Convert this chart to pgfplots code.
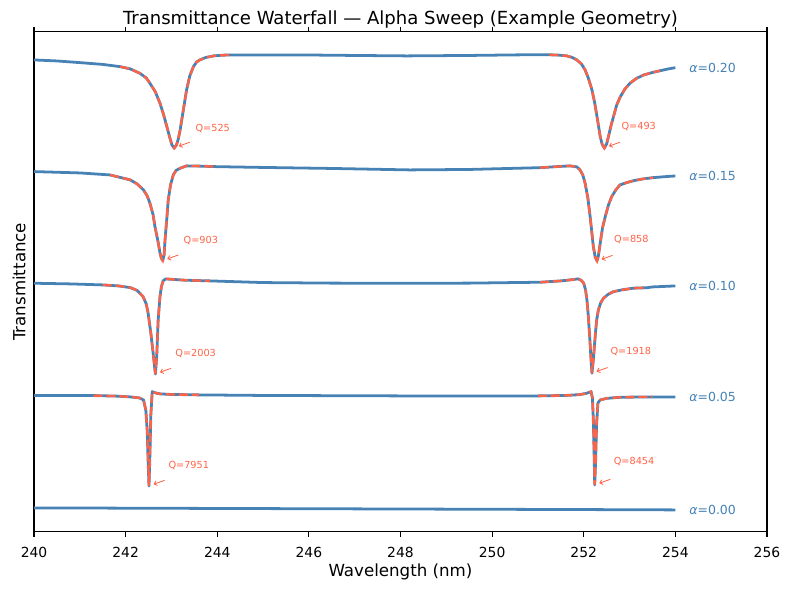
\documentclass[border=0pt]{standalone}
\usepackage{fontspec}
\setmainfont{DejaVu Sans}
\usepackage{pgfplots}
\pgfplotsset{compat=1.18}
\usepackage{pgfplotstable}
\usetikzlibrary{arrows.meta}
\definecolor{steel}{RGB}{70,130,180}
\definecolor{tomato}{RGB}{255,99,71}

\tikzset{
  data/.style={steel, line width=2.0pt, line join=round},
  fit/.style={tomato, line width=1.7pt, dash pattern=on 6.5pt off 2.8pt},
  qlab/.style={tomato, font=\fontsize{7}{8}\selectfont, anchor=base west, inner sep=0pt},
  qarr/.style={tomato, line width=0.6pt, -{Straight Barb[length=2pt,width=3.5pt]}},
  alab/.style={steel, font=\fontsize{9}{11}\selectfont, anchor=west, inner sep=0pt},
}

% Transmittance spectra, one table per absorption value (offset added when plotting)
\pgfplotstableread{
lam T
240.00 1.000
244.00 0.995
248.00 0.990
252.00 0.985
254.00 0.982
}\aZero

\pgfplotstableread{
lam T
240.00 1.004
241.00 1.004
241.30 1.003
241.80 0.998
242.10 0.991
242.30 0.982
242.39 0.964
242.44 0.875
242.47 0.696
242.49 0.429
242.51 0.196
242.53 0.473
242.55 0.830
242.58 1.038
242.65 1.027
242.75 1.018
243.00 1.013
243.60 1.009
245.00 1.004
248.00 1.000
251.00 1.000
251.60 1.004
251.90 1.011
252.05 1.022
252.16 1.038
252.19 0.982
252.21 0.786
252.23 0.429
252.24 0.205
252.26 0.429
252.28 0.741
252.31 0.938
252.36 0.964
252.50 0.978
252.80 0.988
253.50 0.991
254.00 0.991
}\aFive

\pgfplotstableread{
lam T
240.00 1.006
240.80 1.000
241.50 0.991
241.85 0.982
242.10 0.967
242.25 0.942
242.38 0.887
242.45 0.821
242.49 0.741
242.55 0.562
242.60 0.384
242.63 0.268
242.65 0.196
242.68 0.366
242.71 0.679
242.75 0.887
242.78 0.973
242.82 1.029
242.88 1.045
242.97 1.042
243.30 1.033
243.84 1.027
245.00 1.012
246.50 1.007
248.20 1.006
249.50 1.007
251.05 1.015
251.50 1.027
251.75 1.038
251.88 1.045
251.95 1.031
252.00 1.006
252.04 0.946
252.07 0.857
252.10 0.714
252.13 0.529
252.16 0.321
252.18 0.203
252.21 0.321
252.25 0.529
252.28 0.670
252.32 0.768
252.37 0.830
252.43 0.872
252.53 0.906
252.65 0.931
252.85 0.948
253.09 0.962
253.38 0.966
253.50 0.973
254.00 0.982
}\aTen

\pgfplotstableread{
lam T
240.00 1.003
241.00 0.991
241.66 0.973
242.10 0.929
242.25 0.893
242.39 0.839
242.47 0.786
242.53 0.721
242.60 0.616
242.64 0.512
242.70 0.393
242.75 0.277
242.78 0.228
242.81 0.208
242.84 0.259
242.86 0.393
242.90 0.589
242.93 0.750
242.98 0.884
243.04 0.973
243.10 1.013
243.19 1.033
243.33 1.054
243.60 1.052
243.99 1.047
245.00 1.040
246.50 1.031
248.20 1.018
249.50 1.022
251.05 1.038
251.40 1.047
251.70 1.054
251.85 1.045
251.92 1.018
251.98 0.973
252.03 0.899
252.09 0.768
252.14 0.601
252.21 0.333
252.25 0.241
252.29 0.205
252.32 0.250
252.36 0.363
252.41 0.500
252.47 0.601
252.54 0.705
252.61 0.779
252.70 0.839
252.79 0.884
252.95 0.906
253.09 0.922
253.30 0.938
253.52 0.949
253.75 0.957
254.00 0.964
}\aFifteen

\pgfplotstableread{
lam T
240.00 1.000
240.50 0.991
241.00 0.976
241.50 0.960
241.88 0.940
242.10 0.920
242.31 0.881
242.45 0.839
242.53 0.792
242.65 0.714
242.75 0.613
242.83 0.509
242.90 0.404
242.96 0.313
243.01 0.241
243.06 0.212
243.11 0.241
243.15 0.295
243.19 0.375
243.26 0.554
243.33 0.732
243.40 0.857
243.48 0.940
243.55 0.982
243.62 1.000
243.75 1.022
243.92 1.036
244.10 1.042
244.28 1.045
245.00 1.045
245.74 1.045
247.00 1.040
248.14 1.036
249.50 1.040
250.50 1.045
251.19 1.047
251.25 1.046
251.45 1.043
251.63 1.036
251.75 1.022
251.85 1.000
251.95 0.964
252.03 0.911
252.10 0.839
252.18 0.732
252.24 0.616
252.29 0.494
252.33 0.393
252.36 0.315
252.40 0.250
252.45 0.212
252.50 0.250
252.54 0.315
252.60 0.420
252.65 0.494
252.72 0.598
252.80 0.672
252.90 0.741
253.01 0.792
253.15 0.835
253.31 0.866
253.50 0.888
253.67 0.904
253.85 0.920
254.00 0.931
}\aTwenty

\begin{document}
\begin{tikzpicture}
\useasboundingbox (-24.5pt,-41.8pt) rectangle (544.4pt,383pt);
\begin{axis}[
  at={(0,0)}, anchor=south west,
  scale only axis, width=527.8pt, height=360pt,
  xmin=240, xmax=256, ymin=0.786, ymax=5.25,
  xtick={240,242,...,256}, ytick=\empty,
  tick align=outside, major tick length=3.5pt,
  every tick/.style={black, line width=0.8pt},
  axis line style={line width=0.8pt},
  /pgf/number format/assume math mode=true,
  xticklabel style={font=\fontsize{10}{12}\selectfont, anchor=north, inner sep=0pt, yshift=-7.3pt},
  xlabel={Wavelength (nm)}, ylabel={Transmittance},
  xlabel style={font=\fontsize{12}{14}\selectfont, at={(axis description cs:0.5,0)}, anchor=north, inner sep=0pt, yshift=-23pt},
  ylabel style={font=\fontsize{12}{14}\selectfont, at={(axis description cs:-0.011,0.5)}, anchor=south, inner sep=0pt},
  clip=false,
]
% alpha = 0.00
\addplot[data] table[x=lam, y=T] {\aZero};
% alpha = 0.05
\addplot[data] table[x=lam, y expr=\thisrow{T}+1] {\aFive};
\addplot[fit, restrict x to domain=241.29:243.61] table[x=lam, y expr=\thisrow{T}+1] {\aFive};
\addplot[fit, restrict x to domain=250.99:253.51] table[x=lam, y expr=\thisrow{T}+1] {\aFive};
% alpha = 0.10
\addplot[data] table[x=lam, y expr=\thisrow{T}+2] {\aTen};
\addplot[fit, restrict x to domain=241.49:243.85] table[x=lam, y expr=\thisrow{T}+2] {\aTen};
\addplot[fit, restrict x to domain=251.04:253.39] table[x=lam, y expr=\thisrow{T}+2] {\aTen};
% alpha = 0.15
\addplot[data] table[x=lam, y expr=\thisrow{T}+3] {\aFifteen};
\addplot[fit, restrict x to domain=241.65:244.00] table[x=lam, y expr=\thisrow{T}+3] {\aFifteen};
\addplot[fit, restrict x to domain=251.04:253.53] table[x=lam, y expr=\thisrow{T}+3] {\aFifteen};
% alpha = 0.20
\addplot[data] table[x=lam, y expr=\thisrow{T}+4] {\aTwenty};
\addplot[fit, restrict x to domain=241.87:244.29] table[x=lam, y expr=\thisrow{T}+4] {\aTwenty};
\addplot[fit, restrict x to domain=251.24:253.68] table[x=lam, y expr=\thisrow{T}+4] {\aTwenty};

% quality factor annotations
\draw[qarr] (axis cs:242.85,1.246) -- (axis cs:242.61,1.211);
\node[qlab] at (axis cs:242.93,1.348) {Q=7951};
\draw[qarr] (axis cs:252.58,1.255) -- (axis cs:252.34,1.220);
\node[qlab] at (axis cs:252.65,1.384) {Q=8454};
\draw[qarr] (axis cs:242.99,2.246) -- (axis cs:242.75,2.211);
\node[qlab] at (axis cs:243.08,2.351) {Q=2003};
\draw[qarr] (axis cs:252.52,2.253) -- (axis cs:252.28,2.218);
\node[qlab] at (axis cs:252.58,2.366) {Q=1918};
\draw[qarr] (axis cs:243.15,3.258) -- (axis cs:242.91,3.223);
\node[qlab] at (axis cs:243.26,3.363) {Q=903};
\draw[qarr] (axis cs:252.63,3.255) -- (axis cs:252.39,3.220);
\node[qlab] at (axis cs:252.66,3.372) {Q=858};
\draw[qarr] (axis cs:243.40,4.265) -- (axis cs:243.16,4.230);
\node[qlab] at (axis cs:243.52,4.360) {Q=525};
\draw[qarr] (axis cs:252.79,4.265) -- (axis cs:252.55,4.230);
\node[qlab] at (axis cs:252.82,4.375) {Q=493};

% absorption labels at the right end of each trace
\node[alab] at (axis cs:254.3,0.982) {{\itshape α}=0.00};
\node[alab] at (axis cs:254.3,1.991) {{\itshape α}=0.05};
\node[alab] at (axis cs:254.3,2.982) {{\itshape α}=0.10};
\node[alab] at (axis cs:254.3,3.964) {{\itshape α}=0.15};
\node[alab] at (axis cs:254.3,4.931) {{\itshape α}=0.20};

% title
\node[font=\fontsize{13}{15}\selectfont, anchor=base, inner sep=0pt, yshift=5.5pt]
  at (rel axis cs:0.5,1) {Transmittance Waterfall — Alpha Sweep (Example Geometry)};
\end{axis}
\end{tikzpicture}
\end{document}
